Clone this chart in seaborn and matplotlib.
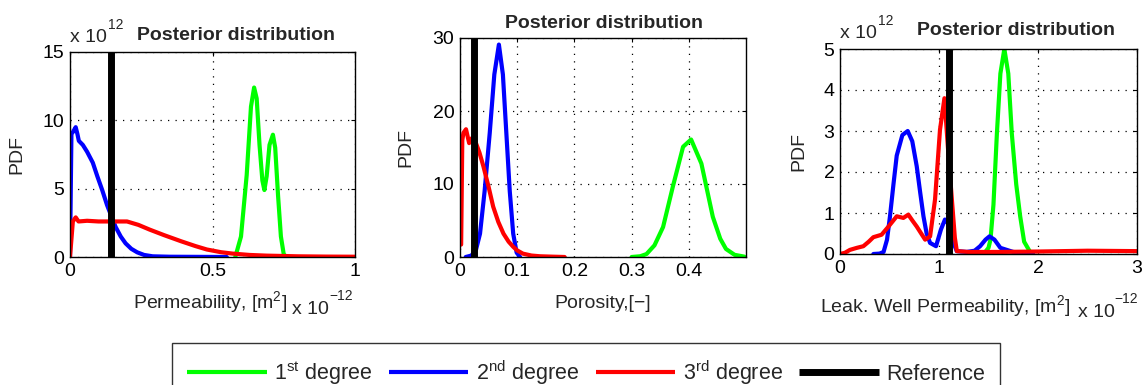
import numpy as np
import pandas as pd
import matplotlib
matplotlib.use("Agg")
import matplotlib.pyplot as plt
import seaborn as sns
from matplotlib.lines import Line2D

# ---------------- data (x in units of 1e-12 m2, PDF in units of 1e12) ----------------
# Panel 1: Permeability
p1_green_x = [0.58, 0.60, 0.62, 0.635, 0.646, 0.655, 0.665, 0.675, 0.682, 0.69, 0.70, 0.712, 0.72, 0.73, 0.74, 0.75, 0.76]
p1_green_y = [0.0, 1.5, 6.0, 11.0, 12.4, 11.6, 8.2, 5.6, 4.9, 5.9, 8.2, 8.95, 8.0, 4.5, 1.5, 0.2, 0.0]
p1_blue_x = [0.0, 0.005, 0.012, 0.02, 0.026, 0.031, 0.045, 0.06, 0.08, 0.096, 0.113, 0.13, 0.145, 0.16, 0.178, 0.195, 0.215, 0.236, 0.26, 0.29, 0.35, 0.45, 0.55]
p1_blue_y = [0.0, 9.0, 9.2, 9.5, 9.0, 8.5, 8.2, 7.7, 6.9, 5.9, 4.9, 3.8, 3.0, 2.2, 1.5, 1.0, 0.6, 0.34, 0.15, 0.05, 0.02, 0.01, 0.0]
p1_red_x = [0.0, 0.01, 0.02, 0.03, 0.06, 0.1, 0.14, 0.2, 0.24, 0.28, 0.33, 0.39, 0.44, 0.48, 0.53, 0.57, 0.63, 0.69, 0.8, 0.9, 1.0]
p1_red_y = [0.0, 2.6, 2.9, 2.6, 2.65, 2.6, 2.6, 2.6, 2.35, 2.0, 1.6, 1.15, 0.8, 0.55, 0.35, 0.25, 0.15, 0.1, 0.05, 0.03, 0.02]
p1_ref = 0.145

# Panel 2: Porosity
p2_green_x = [0.30, 0.315, 0.326, 0.34, 0.355, 0.372, 0.39, 0.404, 0.422, 0.442, 0.455, 0.465, 0.48, 0.497]
p2_green_y = [0.0, 0.1, 0.4, 1.6, 4.1, 9.6, 15.1, 16.1, 12.8, 5.5, 2.5, 1.1, 0.3, 0.05]
p2_blue_x = [0.01, 0.02, 0.028, 0.035, 0.043, 0.052, 0.06, 0.068, 0.075, 0.081, 0.087, 0.093, 0.099, 0.105]
p2_blue_y = [0.0, 0.2, 1.0, 3.2, 9.0, 17.0, 25.0, 29.1, 25.0, 17.0, 9.0, 3.2, 0.6, 0.0]
p2_red_x = [0.002, 0.004, 0.006, 0.0105, 0.016, 0.021, 0.026, 0.034, 0.041, 0.05, 0.058, 0.067, 0.076, 0.085, 0.093, 0.1, 0.11, 0.125, 0.14, 0.16, 0.183]
p2_red_y = [1.7, 16.0, 17.0, 17.5, 15.6, 16.3, 16.0, 14.3, 12.4, 9.6, 6.9, 4.8, 3.2, 2.1, 1.4, 0.9, 0.46, 0.2, 0.1, 0.05, 0.0]
p2_ref = 0.024

# Panel 3: Leak. Well Permeability
p3_green_x = [1.45, 1.50, 1.52, 1.55, 1.585, 1.62, 1.66, 1.70, 1.735, 1.78, 1.82, 1.86, 1.92]
p3_green_y = [0.0, 0.15, 0.35, 1.2, 2.95, 4.4, 5.0, 4.4, 2.95, 1.7, 0.92, 0.3, 0.05]
p3_blue_x = [0.337, 0.40, 0.44, 0.475, 0.505, 0.54, 0.573, 0.63, 0.684, 0.73, 0.775, 0.81, 0.843, 0.875, 0.91, 0.97, 1.02, 1.06, 1.09, 1.11, 1.14, 1.18, 1.28, 1.36, 1.415, 1.47, 1.51, 1.56, 1.62, 1.75, 1.95]
p3_blue_y = [0.0, 0.01, 0.05, 0.35, 0.92, 1.7, 2.4, 2.9, 3.0, 2.75, 2.14, 1.5, 0.92, 0.5, 0.27, 0.19, 0.6, 0.84, 0.75, 0.6, 0.3, 0.07, 0.05, 0.08, 0.19, 0.35, 0.43, 0.35, 0.15, 0.05, 0.0]
p3_red_x = [0.0, 0.05, 0.1, 0.17, 0.236, 0.29, 0.337, 0.42, 0.49, 0.573, 0.64, 0.69, 0.73, 0.775, 0.82, 0.86, 0.91, 0.96, 1.01, 1.055, 1.09, 1.13, 1.16, 1.18, 1.3, 1.6, 2.0, 2.5, 3.0]
p3_red_y = [0.0, 0.03, 0.1, 0.15, 0.19, 0.3, 0.41, 0.47, 0.67, 0.92, 0.88, 0.96, 0.82, 0.67, 0.5, 0.35, 0.43, 1.33, 3.03, 3.8, 2.6, 1.33, 0.4, 0.07, 0.05, 0.05, 0.06, 0.08, 0.07]
p3_ref = 1.1

series_labels = [r"1$^{\mathrm{st}}$ degree", r"2$^{\mathrm{nd}}$ degree", r"3$^{\mathrm{rd}}$ degree", "Reference"]
series_colors = ["#00ff00", "#0000ff", "#ff0000", "#000000"]
title_text = "Posterior distribution"

# ---------------- style ----------------
sns.set_style("white")
plt.rcParams['font.family'] = ['Liberation Sans', 'DejaVu Sans']
plt.rcParams['mathtext.fontset'] = 'custom'
plt.rcParams['mathtext.rm'] = 'Liberation Sans'
plt.rcParams['mathtext.it'] = 'Liberation Sans:italic'
plt.rcParams['mathtext.bf'] = 'Liberation Sans:bold'

fig = plt.figure(figsize=(11.46, 3.85), dpi=100)
W, H = 1146, 385

def axes_px(l, t, r, b):
    return fig.add_axes([l / W, 1 - b / H, (r - l) / W, (b - t) / H])

def ftext(x, y, s, **kw):
    return fig.text(x / W, 1 - y / H, s, va="baseline", **kw)

ax1 = axes_px(70, 52, 355, 257)
ax2 = axes_px(460, 38, 746, 257)
ax3 = axes_px(840, 49, 1137, 254)

panels = [
    (ax1, [(p1_green_x, p1_green_y), (p1_blue_x, p1_blue_y), (p1_red_x, p1_red_y)], p1_ref,
     (0, 1), [0, 0.5, 1], ["0", "0.5", "1"], (0, 15), [0, 5, 10, 15], "Permeability, [m$^2$]"),
    (ax2, [(p2_green_x, p2_green_y), (p2_blue_x, p2_blue_y), (p2_red_x, p2_red_y)], p2_ref,
     (0, 0.5), [0, 0.1, 0.2, 0.3, 0.4], ["0", "0.1", "0.2", "0.3", "0.4"], (0, 30), [0, 10, 20, 30], "Porosity,[\u2212]"),
    (ax3, [(p3_green_x, p3_green_y), (p3_blue_x, p3_blue_y), (p3_red_x, p3_red_y)], p3_ref,
     (0, 3), [0, 1, 2, 3], ["0", "1", "2", "3"], (0, 5), [0, 1, 2, 3, 4, 5], "Leak. Well Permeability, [m$^2$]"),
]

for ax, curves, ref, xlim, xt, xtl, ylim, yt, xlabel in panels:
    ax.set_xlim(*xlim)
    ax.set_ylim(*ylim)
    ax.set_xticks(xt)
    ax.set_xticklabels(xtl)
    ax.set_yticks(yt)
    ax.grid(True, linestyle=(0, (1, 5)), color="black", linewidth=0.9)
    ax.set_axisbelow(True)
    for (cx, cy), col in zip(curves, series_colors[:3]):
        df = pd.DataFrame({"x": cx, "y": cy})
        sns.lineplot(data=df, x="x", y="y", ax=ax, color=col, linewidth=3.0,
                     sort=False, estimator=None)
    ax.axvline(ref, color="black", linewidth=5.0)
    for s in ax.spines.values():
        s.set_color("black")
        s.set_linewidth(1.0)
    ax.tick_params(direction="in", length=3, top=True, right=True, labelsize=14,
                   colors="black", pad=4)
    ax.set_xlabel(xlabel, fontsize=14)
    ax.xaxis.label.set_va("baseline")
    ax.set_ylabel("PDF", fontsize=14)

ax1.yaxis.set_label_coords(-0.158, 0.5)
ax2.yaxis.set_label_coords(-0.16, 0.5)
ax3.yaxis.set_label_coords(-0.111, 0.5)
ax1.xaxis.set_label_coords(0.49, -0.25)
ax2.xaxis.set_label_coords(0.5, -0.235)
ax3.xaxis.set_label_coords(0.355, -0.283)

# titles
ftext(236, 40, title_text, fontsize=14, fontweight="bold", ha="center")
ftext(604, 28, title_text, fontsize=14, fontweight="bold", ha="center")
ftext(1016, 35, title_text, fontsize=14, fontweight="bold", ha="center")

# exponent labels
ftext(70, 42, "x 10", fontsize=14, ha="left")
ftext(108, 29, "12", fontsize=10, ha="left")
ftext(840, 38, "x 10", fontsize=14, ha="left")
ftext(878, 25, "12", fontsize=10, ha="left")
ftext(292, 314, "x 10", fontsize=14, ha="left")
ftext(329, 300, "\u221212", fontsize=10, ha="left")
ftext(1078, 317, "x 10", fontsize=14, ha="left")
ftext(1114, 303, "\u221212", fontsize=10, ha="left")

# legend
handles = [Line2D([0], [0], color=c, linewidth=(3.0 if i < 3 else 5.0), solid_capstyle="butt")
           for i, c in enumerate(series_colors)]
leg = fig.legend(handles, series_labels, loc="upper left", bbox_to_anchor=(172 / W, 1 - 343 / H),
                 ncol=4, fontsize=15.5, frameon=True, fancybox=False, edgecolor="black",
                 handlelength=3.7, columnspacing=0.75, handletextpad=0.35, borderpad=0.7,
                 borderaxespad=0)
leg.get_frame().set_linewidth(1.0)

fig.savefig("out.png", dpi=100)
